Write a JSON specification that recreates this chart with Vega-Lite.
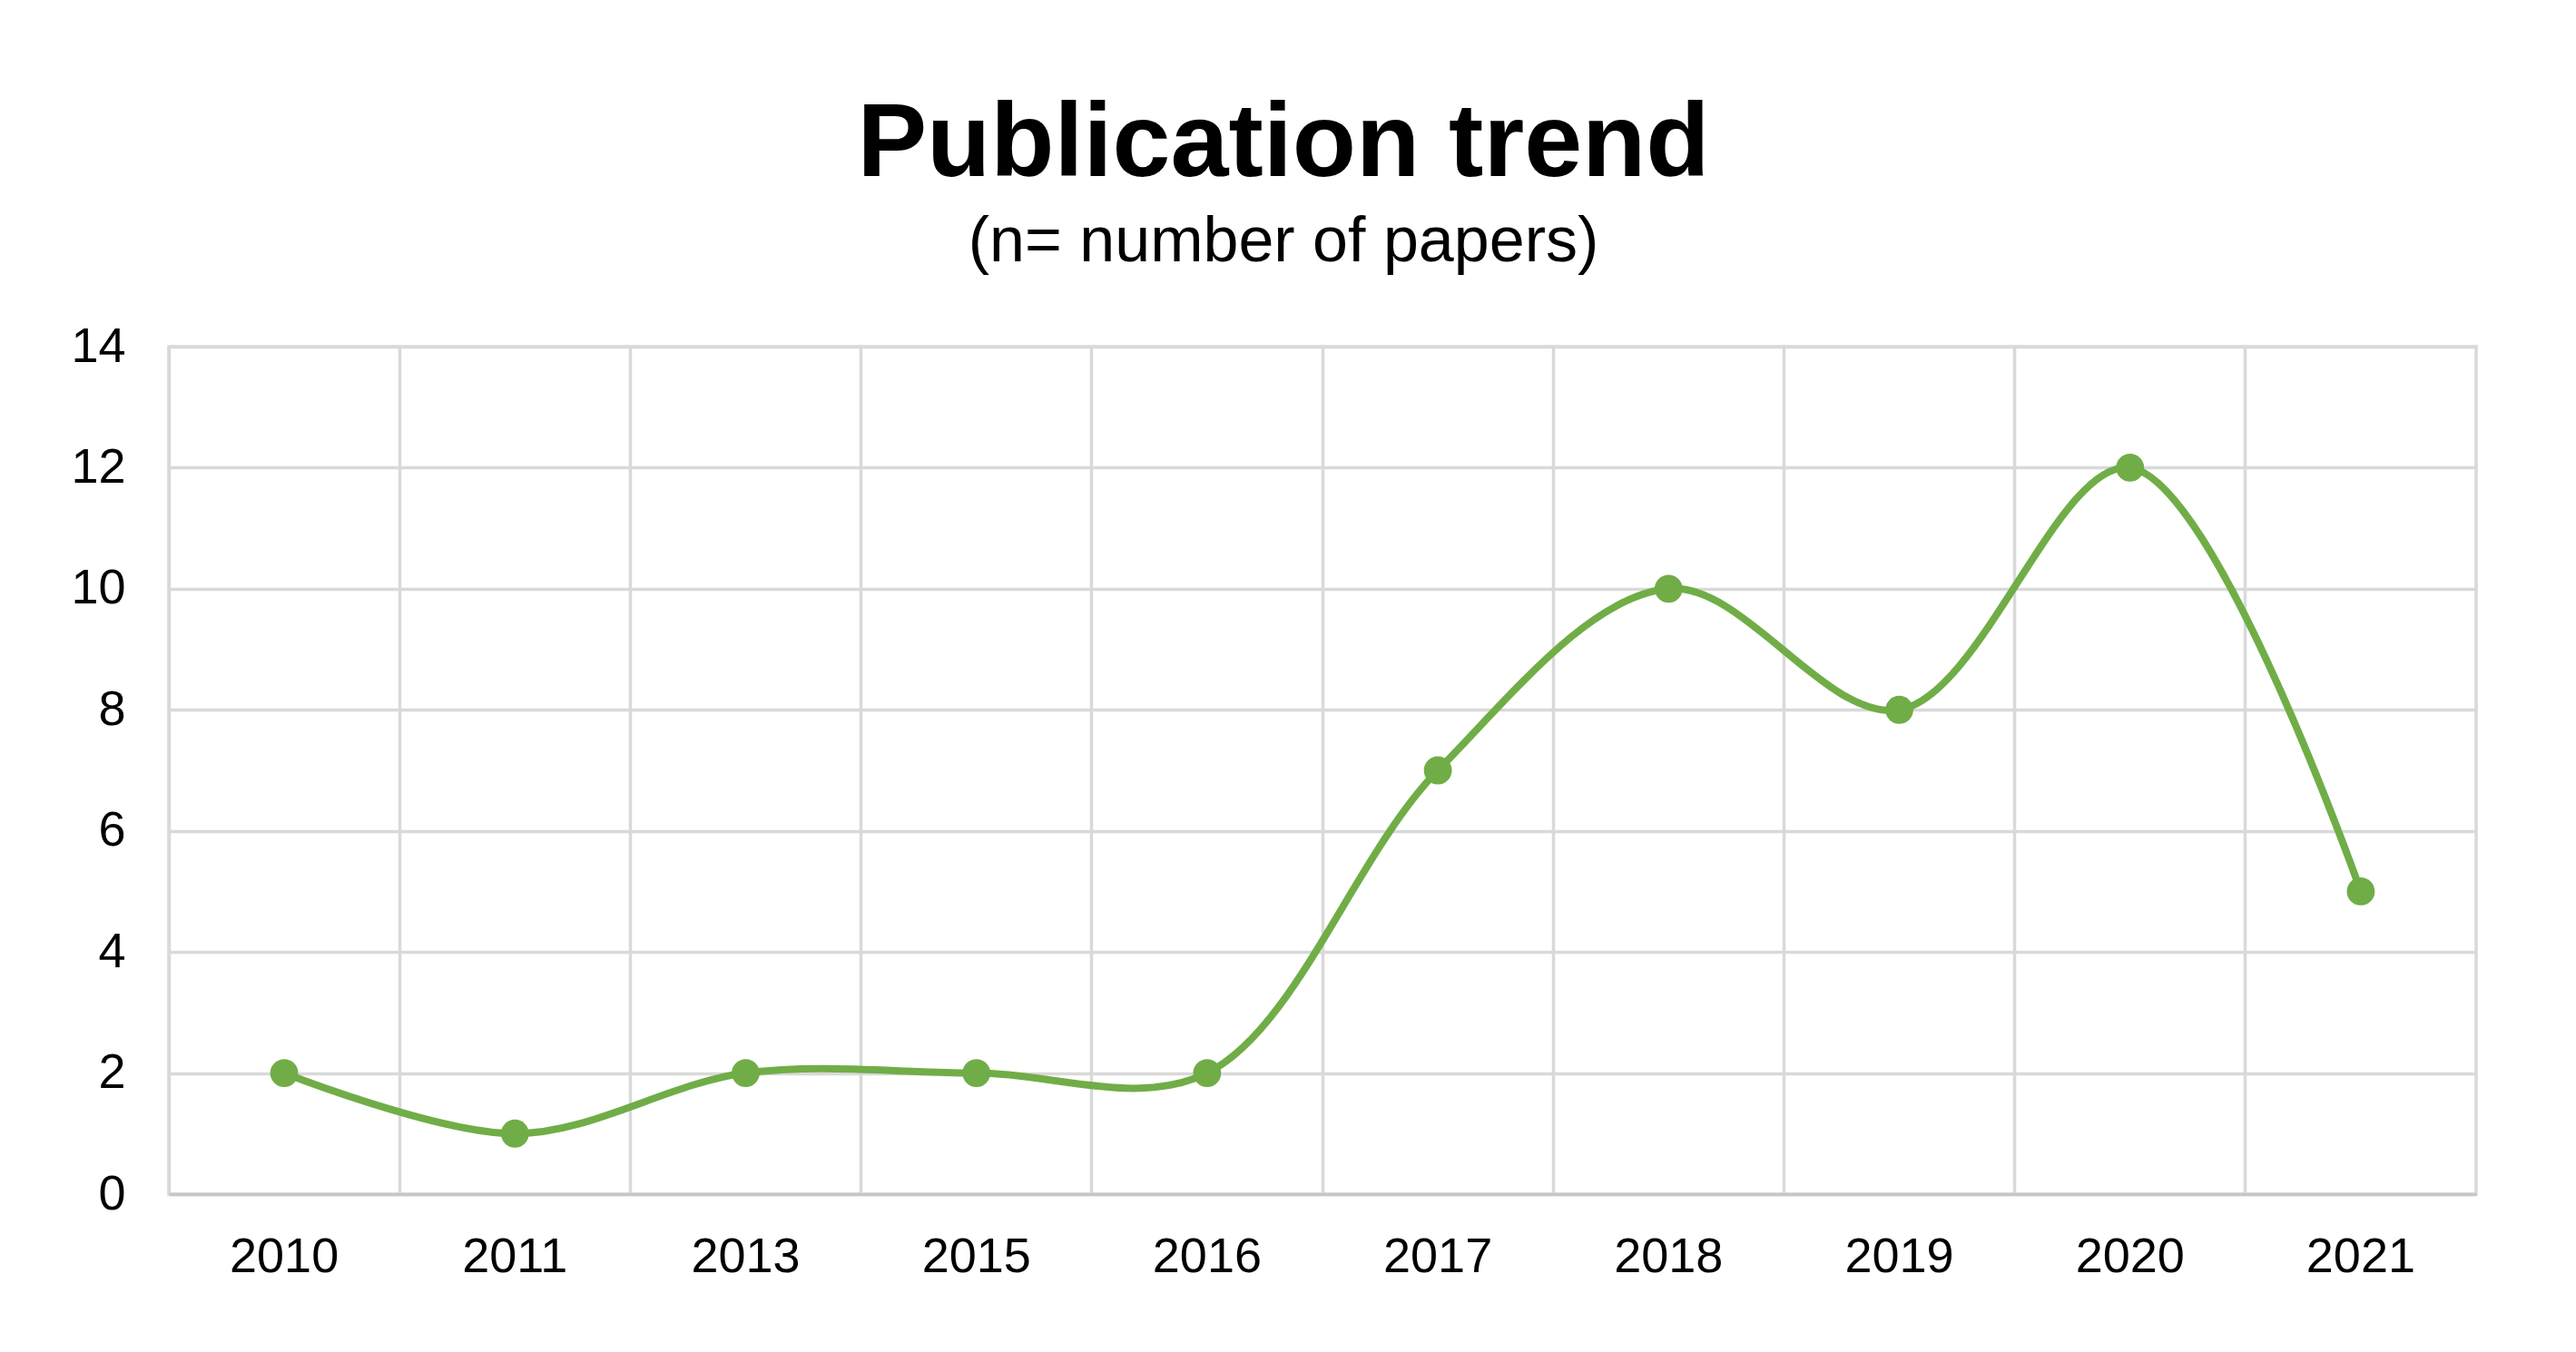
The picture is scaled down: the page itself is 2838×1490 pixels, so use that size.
{
  "$schema": "https://vega.github.io/schema/vega-lite/v6.json",
  "autosize": {"type": "none"},
  "width": 2542,
  "height": 934,
  "padding": {"left": 186, "top": 382, "right": 110, "bottom": 174},
  "background": "white",
  "title": {
    "text": "Publication trend",
    "subtitle": "(n= number of papers)",
    "anchor": "middle",
    "dx": -43,
    "font": "Liberation Sans",
    "fontSize": 115,
    "fontWeight": "bold",
    "color": "#000000",
    "subtitleFont": "Liberation Sans",
    "subtitleFontSize": 70,
    "subtitleColor": "#000000",
    "subtitlePadding": 15,
    "offset": 52
  },
  "data": {
    "values": [
      {"year": "2010", "papers": 2},
      {"year": "2011", "papers": 1},
      {"year": "2013", "papers": 2},
      {"year": "2015", "papers": 2},
      {"year": "2016", "papers": 2},
      {"year": "2017", "papers": 7},
      {"year": "2018", "papers": 10},
      {"year": "2019", "papers": 8},
      {"year": "2020", "papers": 12},
      {"year": "2021", "papers": 5}
    ]
  },
  "encoding": {
    "x": {
      "field": "year",
      "type": "ordinal",
      "sort": null,
      "scale": {"type": "band", "paddingInner": 0, "paddingOuter": 0},
      "axis": {
        "title": null,
        "labelAngle": 0,
        "labelFont": "Liberation Sans",
        "labelFontSize": 54,
        "labelColor": "#000000",
        "labelPadding": 42,
        "ticks": false,
        "bandPosition": 0,
        "grid": true,
        "gridColor": "#d9d9d9",
        "gridWidth": 3.5,
        "domainColor": "#c6c6c6",
        "domainWidth": 3.5
      }
    },
    "y": {
      "field": "papers",
      "type": "quantitative",
      "scale": {"domain": [0, 14]},
      "axis": {
        "title": null,
        "values": [0, 2, 4, 6, 8, 10, 12, 14],
        "labelFont": "Liberation Sans",
        "labelFontSize": 54,
        "labelColor": "#000000",
        "labelPadding": 48,
        "ticks": false,
        "domain": false,
        "grid": true,
        "gridColor": "#d9d9d9",
        "gridWidth": 3.5
      }
    }
  },
  "layer": [
    {
      "mark": {"type": "line", "interpolate": "catmull-rom", "color": "#70ad47", "strokeWidth": 8}
    },
    {
      "mark": {"type": "point", "filled": true, "shape": "circle", "color": "#70ad47", "size": 950, "opacity": 1}
    }
  ],
  "config": {
    "view": {"stroke": "#d9d9d9", "strokeWidth": 3.5}
  }
}
